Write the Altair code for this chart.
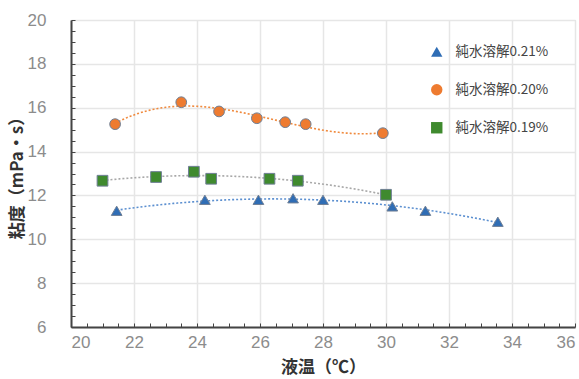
import altair as alt
import pandas as pd

series_names = ["純水溶解0.21%", "純水溶解0.20%", "純水溶解0.19%"]
series_colors = ["#2f6db5", "#ee7b30", "#3f8a2e"]
series_shapes = ["triangle-up", "circle", "square"]
line_colors = ["#5b8fd0", "#f08a3e", "#a8a8a8"]
poly_orders = [2, 3, 2]

temp_021 = [21.45, 24.25, 25.95, 27.05, 28.0, 30.2, 31.25, 33.55]
visc_021 = [11.3, 11.8, 11.8, 11.87, 11.8, 11.5, 11.3, 10.8]
temp_020 = [21.4, 23.5, 24.7, 25.9, 26.8, 27.45, 29.9]
visc_020 = [15.25, 16.25, 15.83, 15.52, 15.34, 15.25, 14.84]
temp_019 = [21.0, 22.7, 23.9, 24.45, 26.3, 27.2, 30.0]
visc_019 = [12.67, 12.84, 13.08, 12.76, 12.76, 12.67, 12.03]

x_ticks = [20, 22, 24, 26, 28, 30, 32, 34, 36]
y_ticks = [6, 8, 10, 12, 14, 16, 18, 20]
x_minor = [20 + 0.5 * i for i in range(33)]
y_minor = [6 + 0.5 * i for i in range(29)]

rows = []
for name, xs, ys in zip(series_names, [temp_021, temp_020, temp_019], [visc_021, visc_020, visc_019]):
    for a, b in zip(xs, ys):
        rows.append({"series": name, "temp": a, "visc": b})
df = pd.DataFrame(rows)

num_font = "Liberation Sans Narrow, Liberation Sans, Arial"
cjk_font = "Noto Sans CJK JP"

xscale = alt.Scale(domain=[20, 36], nice=False, zero=False)
yscale = alt.Scale(domain=[6, 20], nice=False, zero=False)

main_x = alt.Axis(values=x_ticks, orient="bottom", title="液温（℃）", grid=True, gridColor="#e6e6e6",
                  gridWidth=1.5, ticks=False, domainColor="#444", domainWidth=2,
                  labelColor="#8c8c8c", labelFont=num_font, labelFontSize=17, labelPadding=7,
                  titleFont=cjk_font, titleFontSize=17, titleColor="#333", titleFontWeight="bold",
                  titlePadding=9, format="d")
main_y = alt.Axis(values=y_ticks, orient="left", title="粘度（mPa・s）", grid=True, gridColor="#e6e6e6",
                  gridWidth=1.5, ticks=False, domainColor="#444", domainWidth=2,
                  labelColor="#8c8c8c", labelFont=num_font, labelFontSize=17, labelPadding=25,
                  titleFont=cjk_font, titleFontSize=17, titleColor="#333", titleFontWeight="bold",
                  titlePadding=1, format="d")
tick_x = alt.Axis(values=x_minor, orient="bottom", offset=-4, tickSize=4, tickColor="#444",
                  labels=False, domain=False, grid=False, title=None)
tick_y = alt.Axis(values=y_minor, orient="left", offset=-4, tickSize=4, tickColor="#444",
                  labels=False, domain=False, grid=False, title=None)

color_scale = alt.Scale(domain=series_names, range=series_colors)
shape_scale = alt.Scale(domain=series_names, range=series_shapes)

legend = alt.Legend(title=None, orient="none", legendX=359, legendY=25,
                    labelFont=cjk_font, labelFontSize=13.5, labelColor="#444",
                    rowPadding=23, symbolSize=130, symbolStrokeWidth=0,
                    labelOffset=12, padding=0)

layers = []
for i, name in enumerate(series_names):
    xa = tick_x if i == 0 else None
    ya = tick_y if i == 0 else None
    line = alt.Chart(df).transform_filter(
        alt.datum.series == name
    ).transform_regression(
        "temp", "visc", method="poly", order=poly_orders[i]
    ).mark_line(strokeDash=[2, 2], strokeWidth=1.6, color=line_colors[i]).encode(
        x=alt.X("temp:Q", scale=xscale, axis=xa),
        y=alt.Y("visc:Q", scale=yscale, axis=ya),
    )
    layers.append(line)

points = alt.Chart(df).mark_point(filled=True, size=115, stroke="#6f7f95", strokeWidth=1, opacity=1).encode(
    x=alt.X("temp:Q", scale=xscale, axis=main_x),
    y=alt.Y("visc:Q", scale=yscale, axis=main_y),
    fill=alt.Fill("series:N", scale=color_scale, sort=series_names, legend=legend),
    shape=alt.Shape("series:N", scale=shape_scale, sort=series_names, legend=legend),
)
layers.append(points)

chart = alt.layer(*layers).resolve_axis(x="independent", y="independent").properties(
    width=504, height=307,
    autosize=alt.AutoSizeParams(type="none"),
    padding={"left": 71, "top": 20, "right": 4, "bottom": 52},
).configure_view(stroke="#666", strokeWidth=1.5).configure(background="white")

chart.save("out.html", embed_options={"renderer": "svg", "actions": False})
